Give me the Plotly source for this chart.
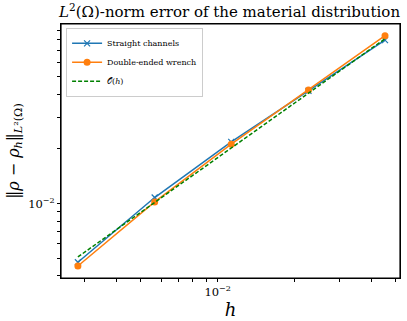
import plotly.graph_objects as go

# mesh sizes and errors
h = [0.00283, 0.00566, 0.0113, 0.0227, 0.0453]
err_straight = [0.00474, 0.01079, 0.0219, 0.0418, 0.0798]
err_wrench = [0.00452, 0.01020, 0.02126, 0.0423, 0.0844]
ref_oh = [0.00507, 0.01014, 0.0203, 0.0406, 0.0811]

xticks = [0.003, 0.004, 0.005, 0.006, 0.007, 0.008, 0.009, 0.01, 0.02, 0.03, 0.04, 0.05]
yticks = [0.004, 0.005, 0.006, 0.007, 0.008, 0.009, 0.01, 0.02, 0.03, 0.04, 0.05, 0.06, 0.07, 0.08, 0.09]

serif = "DejaVu Serif"
W, H = 407, 321
ML, MR, MT, MB = 61, 7, 24, 43
pw, ph = W - ML - MR, H - MT - MB

def labels(vals):
    return ["10<sup>−2</sup>" if v == 0.01 else "" for v in vals]

def ticklen(v):
    return 4 if v == 0.01 else 2.5

fig = go.Figure()
fig.add_trace(go.Scatter(x=h, y=err_straight, mode="lines+markers", name="Straight channels",
                         line=dict(color="#1f77b4", width=1.5),
                         marker=dict(symbol="x-thin", size=6, line=dict(color="#1f77b4", width=1.2))))
fig.add_trace(go.Scatter(x=h, y=err_wrench, mode="lines+markers", name="Double-ended wrench",
                         line=dict(color="#ff7f0e", width=1.5),
                         marker=dict(symbol="circle", size=7, color="#ff7f0e")))
fig.add_trace(go.Scatter(x=h, y=ref_oh, mode="lines", name="𝒪(<i>h</i>)",
                         line=dict(color="#008000", width=1.5, dash="4px,2px")))

# axes frame and tick marks drawn as traces on an overlaid unit box,
# because the built-in axis lines and ticks did not show in the render
fig.add_trace(go.Scatter(x=[0, 1, 1, 0, 0], y=[0, 0, 1, 1, 0], xaxis="x2", yaxis="y2",
                         mode="lines", line=dict(color="black", width=1.2),
                         cliponaxis=False, showlegend=False, hoverinfo="skip"))
fig.add_trace(go.Scatter(x=xticks, y=[-ticklen(v) / 2 / ph for v in xticks], xaxis="x", yaxis="y2",
                         mode="markers", cliponaxis=False, showlegend=False, hoverinfo="skip",
                         marker=dict(symbol="line-ns", size=[ticklen(v) for v in xticks],
                                     line=dict(color="black", width=1))))
fig.add_trace(go.Scatter(x=[-ticklen(v) / 2 / pw for v in yticks], y=yticks, xaxis="x2", yaxis="y",
                         mode="markers", cliponaxis=False, showlegend=False, hoverinfo="skip",
                         marker=dict(symbol="line-ew", size=[ticklen(v) for v in yticks],
                                     line=dict(color="black", width=1))))

fig.update_layout(
    template="none",
    width=W, height=H,
    margin=dict(l=ML, r=MR, t=MT, b=MB, autoexpand=False),
    paper_bgcolor="white", plot_bgcolor="white",
    xaxis=dict(type="log", range=[-2.6145, -1.2851], tickvals=xticks, ticktext=labels(xticks),
               showline=True, linecolor="black", linewidth=1, mirror=True, showgrid=False,
               ticks="outside", ticklen=3, tickcolor="black",
               tickfont=dict(family=serif, size=11.5, color="black"),
               title=dict(text="<i>h</i>", font=dict(family=serif, size=18, color="black"), standoff=3)),
    yaxis=dict(type="log", range=[-2.411, -1.0094], tickvals=yticks, ticktext=labels(yticks),
               showline=True, linecolor="black", linewidth=1, mirror=True, showgrid=False,
               ticks="outside", ticklen=3, tickcolor="black",
               tickfont=dict(family=serif, size=11.5, color="black"),
               title=dict(text="‖<i>ρ</i> − <i>ρ<sub>h</sub></i>‖<sub><i>L</i>²(Ω)</sub>",
                          font=dict(family=serif, size=16, color="black"), standoff=4)),
    xaxis2=dict(range=[0, 1], overlaying="x", anchor="y", visible=False),
    yaxis2=dict(range=[0, 1], overlaying="y", anchor="x", visible=False),
    title=dict(text="<i>L</i><sup>2</sup>(Ω)-norm error of the material distribution",
               x=0.564, xanchor="center", y=0.962, yanchor="middle",
               font=dict(family=serif, size=15, color="black")),
    legend=dict(x=0.015, y=0.985, xanchor="left", yanchor="top",
                bgcolor="rgba(255,255,255,0.8)", bordercolor="#cccccc", borderwidth=1,
                font=dict(family=serif, size=8, color="black")),
    showlegend=True,
)

fig.write_html("out.html", post_script="document.body.style.margin='0';",
               config={"displayModeBar": False})
